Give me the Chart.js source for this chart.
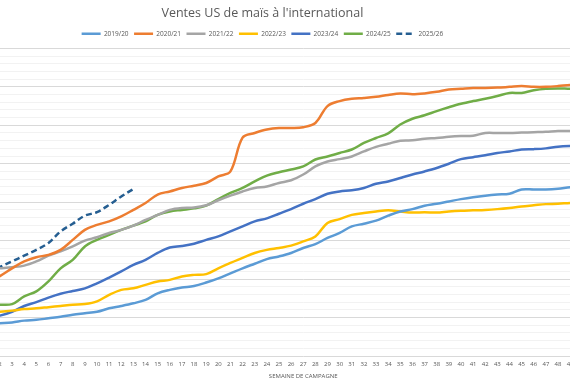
<!DOCTYPE html>
<html><head><meta charset="utf-8">
<script src="https://cdn.jsdelivr.net/npm/chart.js@4/dist/chart.umd.min.js"></script>
<style>
html,body{margin:0;padding:0;width:570px;height:387px;overflow:hidden;background:#fff}
#wrap{position:absolute;left:-94.4px;top:0;width:720.8px;height:387px}
</style></head><body>
<div id="wrap"><canvas id="c"></canvas></div>
<script>
const weeks = ['1','2','3','4','5','6','7','8','9','10','11','12','13','14','15','16','17','18','19','20','21','22','23','24','25','26','27','28','29','30','31','32','33','34','35','36','37','38','39','40','41','42','43','44','45','46','47','48','49','50','51','52','53'];

const s2019 = [8.3,8.5,8.7,9.2,9.4,9.8,10.2,10.7,11.1,11.5,12.4,13.0,13.7,14.6,16.3,17.2,17.8,18.2,19.1,20.2,21.5,22.8,24.0,25.2,25.9,26.8,28.1,29.1,30.7,32.0,33.7,34.4,35.2,36.5,37.6,38.2,39.1,39.6,40.2,40.8,41.3,41.7,42.0,42.2,43.3,43.3,43.3,43.5,43.9,44.1];
const s2020 = [19.5,20.8,22.8,24.6,25.7,26.3,27.6,30.2,32.8,34.1,35.0,36.3,38.0,39.8,42.0,42.8,43.7,44.3,45.0,46.7,48.0,56.8,58.0,58.9,59.3,59.3,59.5,60.6,65.0,66.3,66.9,67.1,67.4,67.9,68.3,68.1,68.3,68.7,69.3,69.5,69.7,69.7,69.8,70.0,70.2,70.0,70.0,70.2,70.5,70.6];
const s2021 = [22.5,22.8,23.1,23.5,24.6,26.1,27.2,28.5,30.0,30.9,32.0,32.8,33.9,35.4,36.7,38.0,38.5,38.6,39.2,40.5,41.7,42.8,43.7,44.1,45.0,45.7,47.2,49.3,50.6,51.2,51.9,53.2,54.4,55.2,56.0,56.1,56.5,56.7,57.0,57.2,57.3,58.0,58.0,58.0,58.1,58.2,58.3,58.5,58.5,58.6];
const s2022 = [11.3,11.5,11.8,12.2,12.4,12.7,13.0,13.3,13.5,14.2,15.9,17.2,17.6,18.5,19.4,19.8,20.7,21.1,21.3,22.8,24.2,25.5,26.8,27.6,28.1,28.7,29.8,31.1,34.6,35.6,36.7,37.2,37.6,37.9,37.6,37.3,37.4,37.3,37.6,37.8,37.9,38.0,38.2,38.5,38.9,39.2,39.5,39.6,39.8,39.9];
const s2023 = [10.0,10.5,11.5,13.0,14.0,15.2,16.2,16.9,17.6,18.9,20.4,22.0,23.7,25.0,26.8,28.2,28.6,29.2,30.2,31.1,32.4,33.7,35.0,35.8,37.0,38.2,39.6,40.8,42.2,42.8,43.1,43.7,44.8,45.4,46.3,47.2,48.0,48.9,50.0,51.2,51.7,52.2,52.8,53.2,53.7,53.8,54.0,54.4,54.6,54.7];
const s2024 = [13.0,13.3,13.5,15.5,16.8,19.4,22.8,25.0,28.5,30.2,31.5,32.8,33.9,35.0,36.7,37.6,38.0,38.4,39.1,40.8,42.4,43.7,45.4,46.9,47.8,48.5,49.3,51.1,51.9,52.8,53.7,55.4,56.7,57.9,60.2,61.7,62.6,63.7,64.7,65.6,66.3,66.9,67.6,68.4,68.4,69.1,69.5,69.6,69.5,69.5];
const s2025 = [22.0,23.2,24.6,26.1,27.6,29.4,32.4,34.4,36.5,37.4,39.3,41.5,43.4];

const seriesLabels = ['2019/20','2020/21','2021/22','2022/23','2023/24','2024/25','2025/26'];
const seriesColors = ['#5B9BD5','#ED7D31','#A5A5A5','#FFC000','#4472C4','#70AD47','#255E91'];
const seriesData = [s2019,s2020,s2021,s2022,s2023,s2024,s2025];

const datasets = seriesData.map((d,i)=>({
  label: seriesLabels[i],
  data: d,
  borderColor: seriesColors[i],
  backgroundColor: seriesColors[i],
  borderWidth: 2.5,
  borderDash: i===6 ? [6,3.5] : [],
  pointRadius: 0,
  pointHoverRadius: 0,
  tension: 0.35,
  fill: false
}));

const gray = '#595959';
new Chart(document.getElementById('c'), {
  type: 'line',
  data: { labels: weeks, datasets },
  options: {
    responsive: true,
    maintainAspectRatio: false,
    animation: false,
    devicePixelRatio: 1,
    layout: { padding: { left: 0, right: 8, top: 1.5, bottom: 3.2 } },
    plugins: {
      tooltip: { enabled: false },
      title: {
        display: true,
        text: "Ventes US de maïs à l'international",
        color: gray,
        font: { family: 'Open Sans', size: 12.5, weight: 'normal' },
        padding: { top: 4, bottom: 4.5 }
      },
      legend: {
        display: true,
        position: 'top',
        labels: {
          usePointStyle: true,
          pointStyleWidth: 19,
          padding: 5.5,
          color: gray,
          font: { family: 'Open Sans', size: 6.5 },
          generateLabels: (chart) => chart.data.datasets.map((ds, i) => ({
            text: ds.label,
            fillStyle: ds.borderColor,
            strokeStyle: ds.borderColor,
            lineWidth: 2.5,
            lineDash: ds.borderDash,
            lineCap: 'butt',
            pointStyle: 'line',
            fontColor: gray,
            hidden: false,
            datasetIndex: i
          }))
        }
      }
    },
    scales: {
      x: {
        type: 'category',
        offset: false,
        grid: { display: false, drawTicks: false },
        border: { display: false },
        ticks: { autoSkip: false, maxRotation: 0, minRotation: 0, padding: 4.7, color: gray, font: { family: 'Open Sans', size: 6 } },
        title: { display: true, text: 'SEMAINE DE CAMPAGNE', color: gray, font: { family: 'Open Sans', size: 6 }, padding: { top: 0, bottom: 4 } }
      },
      y: {
        position: 'left',
        min: 0,
        max: 80.365,
        border: { display: false },
        afterFit: (s) => { s.width = 81.8; },
        grid: {
          drawTicks: false,
          lineWidth: 1,
          color: (ctx) => (ctx.tick && ctx.tick.value % 10 === 0) ? '#d9d9d9' : '#f2f2f2'
        },
        ticks: { stepSize: 2, display: false, includeBounds: false }
      }
    }
  }
});
</script>
</body></html>
